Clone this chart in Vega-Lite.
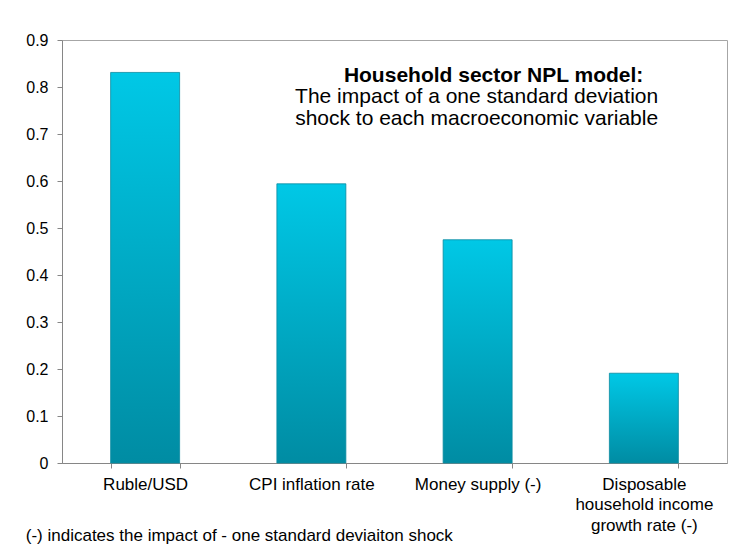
{
  "$schema": "https://vega.github.io/schema/vega-lite/v6.json",
  "width": 665,
  "height": 423,
  "autosize": "none",
  "padding": {"left": 62, "top": 40, "right": 11, "bottom": 81},
  "background": "white",
  "title": {
    "text": "(-) indicates the impact of - one standard deviaiton shock",
    "orient": "bottom",
    "anchor": "start",
    "frame": "bounds",
    "fontSize": 17,
    "fontWeight": "normal",
    "font": "Liberation Sans",
    "color": "black",
    "offset": -5
  },
  "config": {
    "view": {"stroke": "#a6a6a6", "strokeWidth": 1},
    "font": "Liberation Sans"
  },
  "data": {
    "values": [
      {"variable": "Ruble/USD", "impact": 0.831},
      {"variable": "CPI inflation rate", "impact": 0.594},
      {"variable": "Money supply (-)", "impact": 0.475},
      {"variable": "Disposable household income growth rate (-)", "impact": 0.191}
    ]
  },
  "layer": [
    {
      "mark": {
        "type": "bar",
        "color": {
          "gradient": "linear",
          "x1": 0, "y1": 0, "x2": 0, "y2": 1,
          "stops": [
            {"offset": 0, "color": "#00c8e6"},
            {"offset": 1, "color": "#008ca3"}
          ]
        },
        "stroke": "#0a8aa0",
        "strokeWidth": 0.8
      },
      "encoding": {
        "x": {
          "field": "variable",
          "type": "nominal",
          "sort": null,
          "scale": {"paddingInner": 0.585, "paddingOuter": 0.2925},
          "axis": {
            "title": null,
            "labelAngle": 0,
            "labelFontSize": 17,
            "labelColor": "black",
            "labelLineHeight": 20.5,
            "labelPadding": 8,
            "labelLimit": 0,
            "tickBand": "extent",
            "tickSize": 5,
            "tickColor": "#868686",
            "domainColor": "#868686",
            "labelExpr": "datum.value == 'Disposable household income growth rate (-)' ? ['Disposable', 'household income', 'growth rate (-)'] : datum.label"
          }
        },
        "y": {
          "field": "impact",
          "type": "quantitative",
          "scale": {"domain": [0, 0.9], "nice": false},
          "axis": {
            "title": null,
            "grid": false,
            "values": [0, 0.1, 0.2, 0.3, 0.4, 0.5, 0.6, 0.7, 0.8, 0.9],
            "format": ".1~f",
            "labelFontSize": 16,
            "labelColor": "black",
            "labelPadding": 9,
            "tickSize": 5,
            "tickColor": "#868686",
            "domainColor": "#868686"
          }
        }
      }
    },
    {
      "data": {"values": [{"label": "Household sector NPL model:"}]},
      "mark": {
        "type": "text",
        "fontWeight": "bold",
        "fontSize": 21,
        "align": "center",
        "baseline": "alphabetic",
        "color": "black",
        "dx": 16
      },
      "encoding": {
        "x": {"datum": "Money supply (-)"},
        "y": {"datum": 0.811},
        "text": {"field": "label"}
      }
    },
    {
      "data": {"values": [{"label": "The impact of a one standard deviation|shock to each macroeconomic variable"}]},
      "mark": {
        "type": "text",
        "fontSize": 21,
        "align": "center",
        "baseline": "alphabetic",
        "color": "black",
        "lineBreak": "|",
        "lineHeight": 22,
        "dx": -1
      },
      "encoding": {
        "x": {"datum": "Money supply (-)"},
        "y": {"datum": 0.767},
        "text": {"field": "label"}
      }
    }
  ]
}
